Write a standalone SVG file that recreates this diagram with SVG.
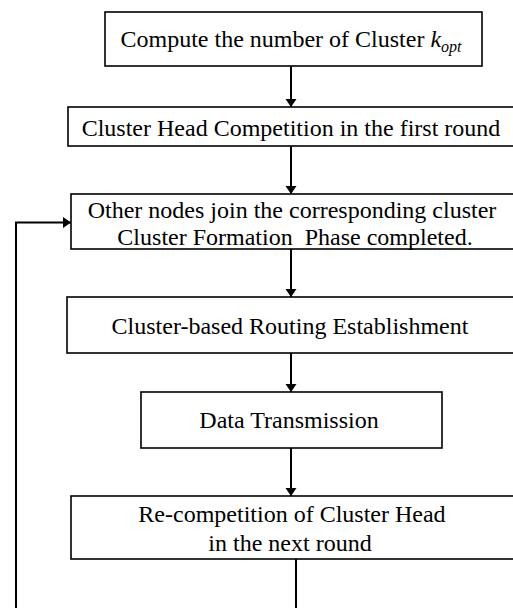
<svg xmlns="http://www.w3.org/2000/svg" width="513" height="608" viewBox="0 0 513 608">
<style>
.box{fill:#fff;stroke:#000;stroke-width:1.6}
.t{font-family:"Liberation Serif","Times New Roman",serif;font-size:24px;fill:#000;text-anchor:middle;white-space:pre}
.c{fill:none;stroke:#000;stroke-width:2}
</style>
<defs>
<marker id="ah" markerUnits="userSpaceOnUse" markerWidth="12" markerHeight="12" viewBox="0 0 12 12" refX="8" refY="6" orient="auto">
<path d="M0,0.5 L8,6 L0,11.5 Z" fill="#000"/>
</marker>
</defs>
<rect width="513" height="608" fill="#fff"/>
<g id="connectors">
<line class="c" x1="291" y1="66" x2="291" y2="107" marker-end="url(#ah)"/>
<line class="c" x1="291" y1="146" x2="291" y2="194" marker-end="url(#ah)"/>
<line class="c" x1="291" y1="249" x2="291" y2="297" marker-end="url(#ah)"/>
<line class="c" x1="291" y1="353" x2="291" y2="392" marker-end="url(#ah)"/>
<line class="c" x1="291" y1="448" x2="291" y2="496" marker-end="url(#ah)"/>
<path class="c" d="M296,559 V625 H16 V222.5 H71" marker-end="url(#ah)"/>
</g>
<g id="n1">
<rect class="box" x="105" y="12" width="377" height="54"/>
<text class="t" x="291" y="47"><tspan>Compute the number of Cluster </tspan><tspan font-style="italic">k</tspan><tspan font-style="italic" font-size="16" dy="5">opt</tspan></text>
</g>
<g id="n2">
<rect class="box" x="68" y="107" width="452" height="39"/>
<text class="t" x="291" y="136">Cluster Head Competition in the first round</text>
</g>
<g id="n3">
<rect class="box" x="71" y="194" width="452" height="55"/>
<text class="t" x="292" y="218">Other nodes join the corresponding cluster</text>
<text class="t" x="295" y="245">Cluster Formation  Phase completed.</text>
</g>
<g id="n4">
<rect class="box" x="67" y="297" width="452" height="56"/>
<text class="t" x="290" y="334">Cluster-based Routing Establishment</text>
</g>
<g id="n5">
<rect class="box" x="141" y="392" width="301" height="56"/>
<text class="t" x="289" y="428">Data Transmission</text>
</g>
<g id="n6">
<rect class="box" x="71" y="496" width="452" height="63"/>
<text class="t" x="292" y="522">Re-competition of Cluster Head</text>
<text class="t" x="290" y="551">in the next round</text>
</g>
</svg>
